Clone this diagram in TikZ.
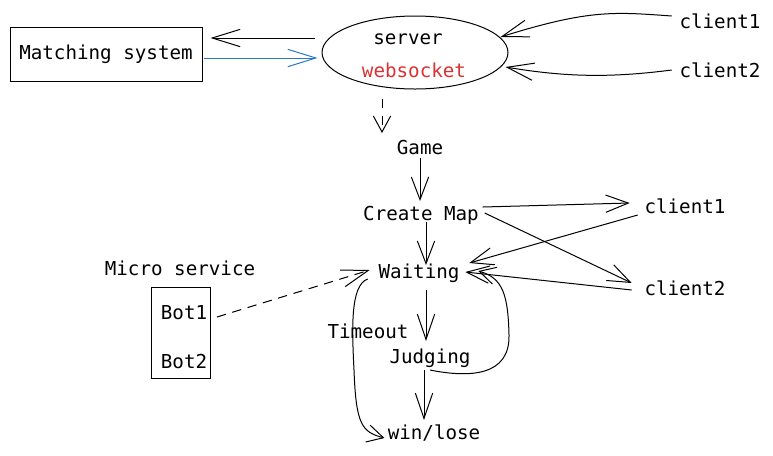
\documentclass[tikz,border=0pt]{standalone}
\usepackage{fontspec}
\setmonofont{DejaVu Sans Mono}
\usetikzlibrary{arrows.meta,shapes.geometric}
\definecolor{wsred}{HTML}{D93232}
\definecolor{linkblue}{HTML}{2A78C6}
\begin{document}
\begin{tikzpicture}[x=0.75pt,y=-0.75pt,line width=0.75pt,
	every node/.style={font=\ttfamily\fontsize{14.4}{23}\selectfont,inner sep=1pt},
	barb/.style={arrows=-{Straight Barb[length=#1,width=13pt]}},barb/.default=17pt]
	\useasboundingbox (0,0) rectangle (773,455);
	% server side
	\node [draw,minimum width=144pt,minimum height=41pt] (match) at (106,54.5) {Matching system};
	\node [draw,ellipse,minimum width=139.5pt,minimum height=54.75pt] (server) at (415,52.5) {};
	\node (srvtxt) at (408,39) {server};
	\node [text=wsred] (wstxt) at (414,70) {websocket};
	\node (stop1) at (720,21) {client1};
	\node (stop2) at (720,70) {client2};
	\draw [barb=21pt] ([shift={(-7,-14.5)}]server.west) -- ([shift={(8,-16.5)}]match.east);
	\draw [barb=21pt,linkblue] ([shift={(1,3.5)}]match.east) -- ([shift={(-4,5.5)}]server.west);
	\draw [barb=20pt] ([shift={(-6,-5)}]stop1.west) .. controls (615,12) and (590,9) .. ([shift={(-8,-15.5)}]server.east);
	\draw [barb=20pt] ([shift={(-6,0)}]stop2.west) .. controls (610,78) and (565,77) .. ([shift={(-3,14.5)}]server.east);
	% game flow
	\node (game) at (420,148) {Game};
	\node (cmap) at (421,215) {Create Map};
	\node (wait) at (419,273) {Waiting};
	\node (timeout) at (368,331) {Timeout};
	\node (judge) at (430,358) {Judging};
	\node (winlose) at (434,433) {win/lose};
	\node (cli1) at (685,206) {client1};
	\node (cli2) at (685,288) {client2};
	\draw [barb=12pt,dash pattern=on 7pt off 6pt] ([shift={(-33,9)}]server.south) -- ([shift={(-38,-15)}]game.center);
	\draw [barb] ([shift={(0,10)}]game.center) -- ([shift={(-1,-14)}]cmap.center);
	\draw [barb] ([shift={(5,7)}]cmap.center) -- ([shift={(7,-8)}]wait.center);
	\draw [barb] ([shift={(2,-8)}]cmap.east) -- ([shift={(-13,-3)}]cli1.west);
	\draw [barb] ([shift={(4,-2)}]cmap.east) -- ([shift={(-11,-5)}]cli2.west);
	\draw [barb] ([shift={(-5,9)}]cli1.west) -- ([shift={(8,-10)}]wait.east);
	\draw [barb] ([shift={(-11,2)}]cli2.west) -- ([shift={(4,-1)}]wait.east);
	\draw [barb=19pt] ([shift={(7,17)}]wait.center) -- ([shift={(-4,-17)}]judge.center);
	\draw [barb=19pt] ([shift={(-6,12)}]judge.center) -- ([shift={(-10,-13)}]winlose.center);
	\draw [barb=12pt] ([shift={(0,12)}]judge.center) .. controls (470,378) and (510,376) .. (509,335) .. controls (508,295) and (503,278) .. ([shift={(17,-2)}]wait.east);
	\draw [barb=12pt] ([shift={(-9,6)}]wait.west) .. controls (350,285) and (352,330) .. (354,370) .. controls (356,425) and (362,432) .. ([shift={(-1.5,5)}]winlose.west);
	% micro service
	\node (micro) at (180,268) {Micro service};
	\node [draw,minimum width=44.25pt,minimum height=68.25pt] (bots) at (180.5,332.5) {};
	\node (bot1) at (184,313) {Bot1};
	\node (bot2) at (184,361) {Bot2};
	\draw [barb=20pt,dash pattern=on 7pt off 5pt] ([shift={(8,4)}]bot1.east) -- ([shift={(-7,-3)}]wait.west);
\end{tikzpicture}
\end{document}
